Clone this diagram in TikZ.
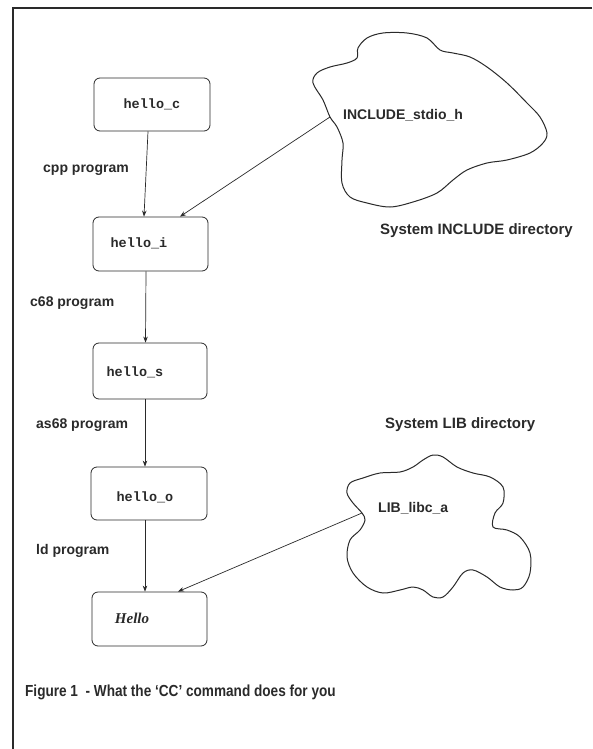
\documentclass[tikz,border=0pt]{standalone}
\usepackage{fontspec}
\setmainfont{Liberation Sans}
\newfontfamily\boxfont{Liberation Mono}
\newfontfamily\outfont{Liberation Serif}
\usetikzlibrary{arrows.meta}
\definecolor{ink}{HTML}{2A2A2A}
\tikzset{
  stage/.style={draw=ink, line width=0.8pt, rounded corners=6pt, minimum width=115pt, minimum height=54pt, inner sep=0pt},
  fname/.style={font=\boxfont\bfseries\fontsize{13.5}{13.5}\selectfont, text=ink, inner sep=0pt},
  lbl/.style={font=\bfseries\fontsize{14}{14}\selectfont, text=ink, anchor=west, inner sep=0pt},
  cloudline/.style={draw=ink, line width=1pt},
  flow/.style={draw=ink, line width=0.7pt, -{Stealth[length=6pt,width=4.5pt]}},
}
\begin{document}
\begin{tikzpicture}[x=1pt, y=-1pt]
  \useasboundingbox (0,0) rectangle (592,749);
  \fill[white] (0,0) rectangle (592,749);
  % page frame
  \draw[ink, line width=2pt] (592,8) -- (13,8) -- (13,749);

  % processing stages
  \node[stage, minimum width=116pt, minimum height=53pt] (hc) at (152,104.5) {};
  \node[stage, minimum height=54pt] (hi) at (150.5,244) {};
  \node[stage, minimum width=114pt, minimum height=56pt] (hs) at (150,371) {};
  \node[stage, minimum width=116pt, minimum height=53pt] (ho) at (149,493.5) {};
  \node[stage, minimum width=115pt, minimum height=54pt] (hf) at (149.5,619) {};

  \node[fname] (thc) at (152,104) {hello\_c};
  \node[fname] (thi) at (139,243) {hello\_i};
  \node[fname] (ths) at (135,372) {hello\_s};
  \node[fname] (tho) at (145,497) {hello\_o};
  \node[font=\outfont\bfseries\itshape\fontsize{15}{15}\selectfont, text=ink, inner sep=0pt] (thf) at (132,618) {Hello};

  % program labels
  \node[lbl] (lcpp) at (43,170) {cpp program};
  \node[lbl] (lc68) at (30,303) {c68 program};
  \node[lbl] (las) at (36,425) {as68 program};
  \node[lbl] (lld) at (36,551) {ld program};

  % system INCLUDE directory cloud
  \coordinate (inc) at (330,117);
  \draw[cloudline] plot[smooth cycle, tension=0.55] coordinates {
    (330,117) (323,100) (313,83) (317,73) (330,67) (347,63) (357,58) (358,48)
    (367,38) (383,33) (407,33) (427,38) (440,50) (453,53) (470,57) (487,67)
    (507,83) (527,103) (540,117) (547,133) (543,143) (530,153) (507,160)
    (487,163) (467,170) (453,180) (437,193) (413,202) (390,207) (367,203)
    (350,197) (342,183) (342,160) (343,143) (337,127)};
  \node[lbl] (tinc) at (343,115) {INCLUDE\_stdio\_h};
  \node[lbl, font=\bfseries\fontsize{15}{15}\selectfont] (sinc) at (380,231) {System INCLUDE directory};

  % system LIB directory cloud
  \coordinate (lib) at (362,513);
  \draw[cloudline] plot[smooth cycle, tension=0.55] coordinates {
    (362,513) (353,503) (347,493) (350,483) (363,478) (380,473) (400,472)
    (413,467) (423,460) (433,455) (443,457) (457,467) (473,473) (490,477)
    (503,487) (503,503) (495,513) (493,527) (507,530) (520,537) (530,553)
    (530,573) (523,587) (513,590) (500,587) (487,577) (473,570) (463,573)
    (453,587) (443,597) (433,597) (423,590) (413,587) (400,590) (383,593)
    (367,587) (353,573) (347,557) (350,540) (360,530) (365,520)};
  \node[lbl] (tlib) at (378,508) {LIB\_libc\_a};
  \node[lbl, font=\bfseries\fontsize{15}{15}\selectfont] (slib) at (385,425) {System LIB directory};

  % data flow
  \draw[flow] ([xshift=-4pt]hc.south) -- ([xshift=-6.5pt]hi.north);
  \draw[flow] ([xshift=-4.5pt]hi.south) -- ([xshift=-4.5pt]hs.north);
  \draw[flow] ([xshift=-5pt]hs.south) -- ([xshift=-4pt]ho.north);
  \draw[flow] ([xshift=-4pt]ho.south) -- ([xshift=-4.5pt]hf.north);
  \draw[flow] (inc) -- ([xshift=29.5pt]hi.north);
  \draw[flow] (lib) -- ([xshift=28.5pt]hf.north);

  % caption
  \node[anchor=west, inner sep=0pt, font=\bfseries\fontsize{16}{16}\selectfont, text=ink, xscale=0.85, transform shape] (cap) at (25,692) {Figure 1\ \ - What the `CC' command does for you};
\end{tikzpicture}
\end{document}
